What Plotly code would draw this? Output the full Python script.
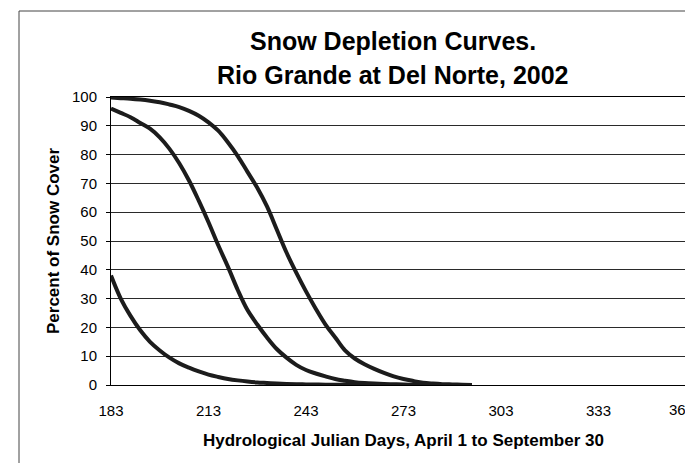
import plotly.graph_objects as go

# Hydrological Julian days
days = [183, 186, 189, 192, 195, 198, 201, 204, 207, 210, 213, 216, 219, 222,
        225, 228, 231, 234, 237, 240, 243, 246, 249, 252, 255, 258, 261, 264,
        267, 270, 273, 276, 279, 282, 285, 288, 291, 294]

# Percent of snow cover, three depletion curves
curve_low = [38, 30, 24, 19, 15, 12, 9.5, 7.5, 6, 4.7, 3.6, 2.8, 2.1, 1.6,
             1.2, 0.9, 0.7, 0.5, 0.35, 0.25, 0.2, 0.15, 0.1, 0.1, 0.05, 0.05,
             0, 0, 0, 0, 0, 0, 0, 0, 0, 0, 0, 0]
curve_mid = [96, 94.5, 93, 91, 89, 86, 82, 77, 71, 64, 56.5, 48.5, 41, 33,
             26, 21, 16.5, 12.5, 9.5, 7, 5.2, 4, 3, 2.1, 1.5, 1, 0.7, 0.5,
             0.35, 0.25, 0.15, 0.1, 0.05, 0, 0, 0, 0, 0]
curve_high = [99.8, 99.6, 99.4, 99.1, 98.7, 98.2, 97.4, 96.5, 95.2, 93.5,
              91.2, 88.3, 84.2, 79.5, 74, 68.5, 62, 54, 46, 39, 32.5, 26.5,
              21, 16.5, 12, 9.2, 7.2, 5.6, 4.2, 3, 2.1, 1.4, 0.8, 0.5, 0.3,
              0.2, 0.1, 0]

x_ticks = [183, 213, 243, 273, 303, 333, 363]
y_ticks = [0, 10, 20, 30, 40, 50, 60, 70, 80, 90, 100]

title_lines = ["Snow Depletion Curves.", "Rio Grande at Del Norte, 2002"]

FONT = "Liberation Sans, Arial, sans-serif"
INK = "#1c1c1c"

# plot area in pixels: x 103..688, y 89..377
def px_x(x):
    return (x - 103) / 585


def px_y(y):
    return (377 - y) / 288


fig = go.Figure()
for ys in (curve_low, curve_mid, curve_high):
    fig.add_trace(go.Scatter(
        x=days, y=ys, mode="lines",
        line=dict(color=INK, width=4, shape="spline"),
        showlegend=False, hoverinfo="skip",
    ))

fig.update_layout(
    width=693,
    height=463,
    margin=dict(l=103, r=5, t=89, b=86),
    paper_bgcolor="white",
    plot_bgcolor="white",
    font=dict(family=FONT, color="black"),
)

fig.update_xaxes(
    range=[183, 363],
    tickvals=x_ticks[:-1],
    ticks="",
    showgrid=False,
    zeroline=False,
    showline=True, mirror=True, linecolor="black", linewidth=1,
    tickfont=dict(size=15, family=FONT, color="black"),
    ticklabelstandoff=12,
)
fig.update_yaxes(
    range=[0, 100],
    tickvals=y_ticks,
    ticks="outside", ticklen=4, tickcolor="black",
    showgrid=True, gridcolor="#2a2a2a", gridwidth=1,
    zeroline=False,
    showline=True, mirror=True, linecolor="black", linewidth=1,
    tickfont=dict(size=15, family=FONT, color="black"),
    ticklabelstandoff=6,
)

# title, two centred lines
for text, yc in zip(title_lines, (33, 67)):
    fig.add_annotation(
        x=px_x(385), y=px_y(yc), xref="paper", yref="paper",
        text="<b>" + text + "</b>", showarrow=False,
        xanchor="center", yanchor="middle",
        font=dict(size=25, family=FONT, color="black"),
    )

# last x tick label is pulled inside the chart area, as in the original
fig.add_annotation(
    x=x_ticks[-1], y=0, xref="x", yref="y",
    text=str(x_ticks[-1]), showarrow=False,
    xanchor="right", yanchor="top", xshift=0, yshift=-14,
    font=dict(size=15, family=FONT, color="black"),
)

# axis titles
fig.add_annotation(
    x=px_x(395), y=px_y(432), xref="paper", yref="paper",
    text="<b>Hydrological Julian Days, April 1 to September 30</b>",
    showarrow=False, xanchor="center", yanchor="middle",
    font=dict(size=17, family=FONT, color="black"),
)
fig.add_annotation(
    x=px_x(45), y=0.5, xref="paper", yref="paper",
    text="<b>Percent of Snow Cover</b>", textangle=-90,
    showarrow=False, xanchor="center", yanchor="middle",
    font=dict(size=17, family=FONT, color="black"),
)

# chart-area border (left and top edges visible in the scan)
fig.add_shape(type="line", xref="paper", yref="paper",
              x0=px_x(11), x1=px_x(11), y0=px_y(3), y1=px_y(470),
              line=dict(color="#444", width=1))
fig.add_shape(type="line", xref="paper", yref="paper",
              x0=px_x(11), x1=px_x(700), y0=px_y(3), y1=px_y(3),
              line=dict(color="#444", width=1))

fig.write_html("out.html")
